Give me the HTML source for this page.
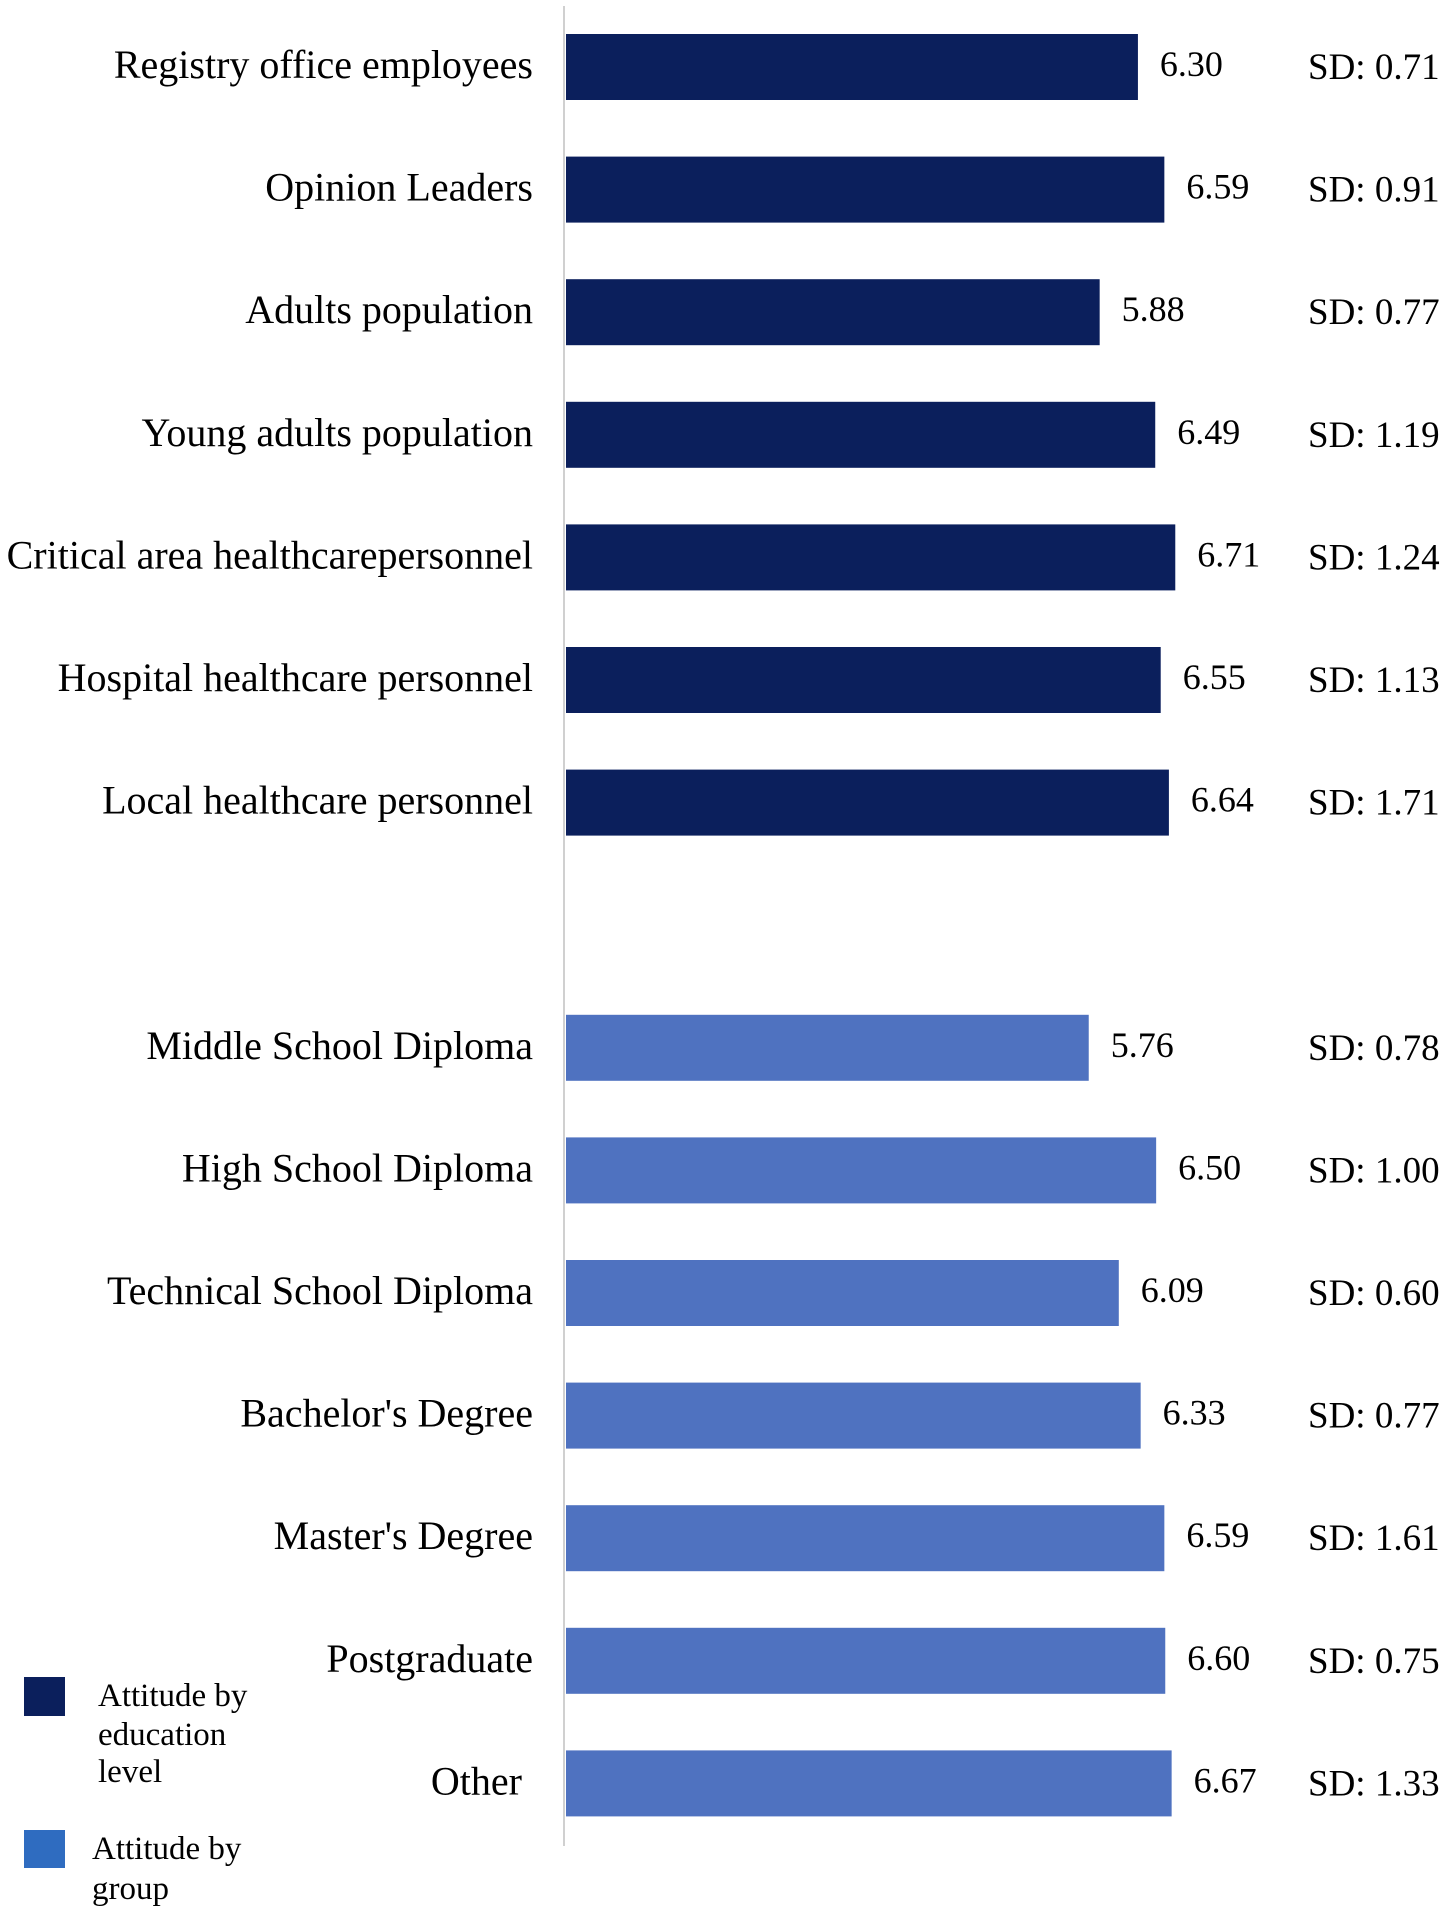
<!DOCTYPE html>
<html><head><meta charset="utf-8"><style>
html,body{margin:0;padding:0;background:#fff;}
svg text{font-family:"Liberation Serif",serif;fill:#000;}
</style></head><body>
<svg id="chart" width="1441" height="1910" viewBox="0 0 1441 1910" xmlns="http://www.w3.org/2000/svg">
<line x1="564" y1="6" x2="564" y2="1846" stroke="#d0d0d0" stroke-width="2"/>
<g id="bars"></g>
<g>
<rect x="24" y="1677" width="41" height="39" fill="#0b1f5c"/>
<text font-size="33"><tspan x="98" y="1706">Attitude by</tspan><tspan x="98" y="1745">education</tspan><tspan x="98" y="1782">level</tspan></text>
<rect x="24" y="1830" width="41" height="38" fill="#2f6cc0"/>
<text font-size="33"><tspan x="92" y="1859">Attitude by</tspan><tspan x="92" y="1899">group</tspan></text>
</g>
</svg>
<script>
const groupCats = ["Registry office employees","Opinion Leaders","Adults population","Young adults population","Critical area healthcarepersonnel","Hospital healthcare personnel","Local healthcare personnel"];
const groupVals = [6.30,6.59,5.88,6.49,6.71,6.55,6.64];
const groupSD = [0.71,0.91,0.77,1.19,1.24,1.13,1.71];
const eduCats = ["Middle School Diploma","High School Diploma","Technical School Diploma","Bachelor's Degree","Master's Degree","Postgraduate","Other"];
const eduVals = [5.76,6.50,6.09,6.33,6.59,6.60,6.67];
const eduSD = [0.78,1.00,0.60,0.77,1.61,0.75,1.33];

const NS="http://www.w3.org/2000/svg";
const x0=566, originX=564, pxPerUnit=91.1;
function xScale(v){return originX+v*pxPerUnit;}
function yRow(i){return 34+i*122.6;}
const g=document.getElementById('bars');
function mk(tag,attrs){const e=document.createElementNS(NS,tag);for(const k in attrs)e.setAttribute(k,attrs[k]);return e;}
function drawSeries(cats,vals,sds,startRow,color){
  cats.forEach((c,i)=>{
    const y=yRow(startRow+i), h=66, v=vals[i];
    const bar=mk('rect',{x:x0,y:y,width:xScale(v)-x0,height:h,fill:color});
    
    
    g.appendChild(bar);
    const lab=mk('text',{x:(c==='Other'?522:533),y:y+h/2+11,'text-anchor':'end','font-size':40});
    lab.textContent=c;
    
    
    g.appendChild(lab);
    const val=mk('text',{x:xScale(v)+22,y:y+h/2+9,'font-size':36});
    val.textContent=v.toFixed(2);
    
    
    g.appendChild(val);
    const sd=mk('text',{x:1308,y:y+h/2+12,'font-size':37});
    sd.textContent='SD: '+sds[i].toFixed(2);
    
    
    g.appendChild(sd);
  });
}
drawSeries(groupCats,groupVals,groupSD,0,'#0b1f5c');
drawSeries(eduCats,eduVals,eduSD,8,'#4f72c0');
</script>
</body></html>
